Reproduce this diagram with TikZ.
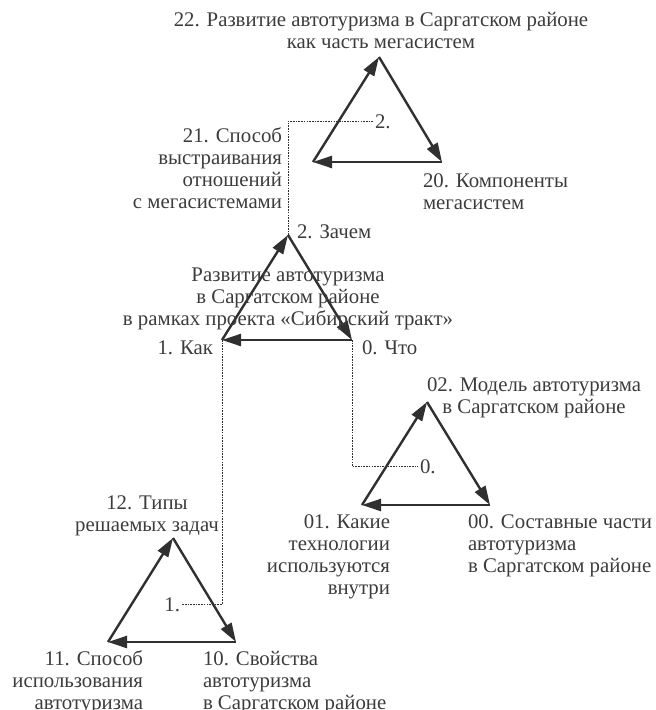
\documentclass[tikz,border=0pt]{standalone}
\usepackage{fontspec}
\setmainfont{Liberation Serif}
\usetikzlibrary{arrows.meta}
\definecolor{txtc}{HTML}{3C3C3C}
\definecolor{linec}{HTML}{303030}
\tikzset{
  triarrow/.style={draw=linec, line width=2.4pt, line join=miter,
    -{Triangle[length=19pt,width=12pt]}},
  dotline/.style={draw=linec, line width=0.9pt, dash pattern=on 1.6pt off 1.1pt},
  lbl/.style={inner sep=0pt, outer sep=0pt, text=txtc,
    font=\fontsize{20.8}{22}\selectfont},
}
\begin{document}
\begin{tikzpicture}[x=1pt,y=-1pt]
\useasboundingbox (0,0) rectangle (656,710);
% vertices
\coordinate (Tt) at (379,57);  \coordinate (Tl) at (313,162); \coordinate (Tr) at (442,162);
\coordinate (Mt) at (288,235); \coordinate (Ml) at (222,340); \coordinate (Mr) at (352,340);
\coordinate (Rt) at (427,402); \coordinate (Rl) at (362,505); \coordinate (Rr) at (490,505);
\coordinate (Bt) at (173,538); \coordinate (Bl) at (108,642); \coordinate (Br) at (236,642);
% triangles
\foreach \p in {T,M,R,B}{
  \draw[triarrow] (\p l) -- (\p t);
  \draw[triarrow] (\p t) -- (\p r);
  \draw[triarrow] (\p r) -- (\p l);
}
% labels (anchor base = baseline of the last line)
\node[lbl, anchor=base, align=center] (l22) at (381,48.5) {22. Развитие автотуризма в Саргатском районе\\как часть мегасистем};
\node[lbl, anchor=base east, align=right] (l21) at (282,208) {21. Способ\\выстраивания\\отношений\\с мегасистемами};
\node[lbl, anchor=base west, align=left] (l20) at (423,209) {20. Компоненты\\мегасистем};
\node[lbl, anchor=base west] (l2z) at (297,238) {2. Зачем};
\node[lbl, anchor=base, align=center] (lmain) at (288,325) {Развитие автотуризма\\в Саргатском районе\\в рамках проекта «Сибирский тракт»};
\node[lbl, anchor=base east] (l1k) at (213,354) {1. Как};
\node[lbl, anchor=base west] (l0c) at (362,354) {0. Что};
\node[lbl, anchor=base, align=center] (l02) at (534,413.5) {02. Модель автотуризма\\в Саргатском районе};
\node[lbl, anchor=base east, align=right] (l01) at (390,594) {01. Какие\\технологии\\используются\\внутри};
\node[lbl, anchor=base west, align=left] (l00) at (468,572) {00. Составные части\\автотуризма\\в Саргатском районе};
\node[lbl, anchor=base, align=center] (l12) at (147,531) {12. Типы\\решаемых задач};
\node[lbl, anchor=base east, align=right] (l11) at (143,709) {11. Способ\\использования\\автотуризма};
\node[lbl, anchor=base west, align=left] (l10) at (203,709) {10. Свойства\\автотуризма\\в Саргатском районе};
% small number labels
\node[lbl, anchor=base west] (n2) at (375,128) {2.};
\node[lbl, anchor=base west] (n0) at (420,473) {0.};
\node[lbl, anchor=base east] (n1) at (180,611) {1.};
% dotted connectors
\draw[dotline, shorten >=2pt] (Mt) |- (n2.west);
\draw[dotline, shorten >=2pt] (Mr) |- (n0.west);
\draw[dotline, shorten >=2pt] (Ml) |- (n1.east);
\end{tikzpicture}
\end{document}
